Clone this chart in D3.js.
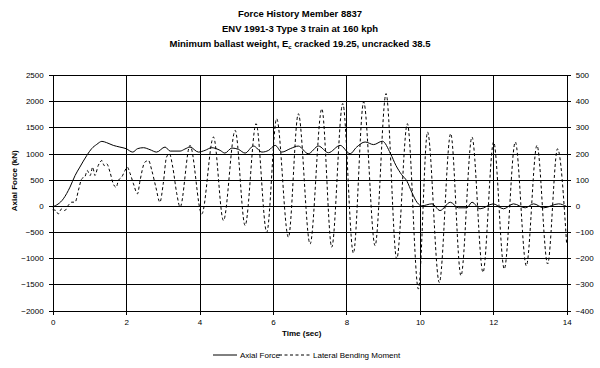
<!DOCTYPE html>
<meta charset="utf-8">
<script src="https://d3js.org/d3.v7.min.js"></script>
<style>
body { margin: 0; background: #fff; }
text { font-family: "Liberation Sans", Arial, sans-serif; fill: #000; }
.axis path, .axis line { stroke: #000; }
</style>
<div id="chart"></div>
<script>

// chart data
var titleLines = ["Force History Member 8837",
                  "ENV 1991-3 Type 3 train at 160 kph",
                  "Minimum ballast weight, E", "c", " cracked 19.25, uncracked 38.5"];

var timeTicks = [0, 2, 4, 6, 8, 10, 12, 14];
var forceTicks = [-2000, -1500, -1000, -500, 0, 500, 1000, 1500, 2000, 2500];
var momentTicks = [-400, -300, -200, -100, 0, 100, 200, 300, 400, 500];

var forceTime = [0, 0.29, 0.47, 0.61, 0.74, 0.93, 1.06, 1.2, 1.34, 1.47, 1.65, 1.83, 2.0, 2.18, 2.31,
  2.47, 2.65, 2.83, 3.06, 3.2, 3.47, 3.6, 3.74, 3.97, 4.15, 4.33, 4.56, 4.69, 4.88, 5.06, 5.24, 5.47,
  5.7, 5.88, 6.06, 6.24, 6.47, 6.69, 6.96, 7.24, 7.51, 7.83, 8.1, 8.28, 8.51, 8.74, 8.98, 9.2, 9.35,
  9.5, 9.65, 9.78, 9.93, 10.05, 10.33, 10.55, 10.83, 11.05, 11.28, 11.42, 11.64, 12.0, 12.28, 12.55,
  12.87, 13.1, 13.37, 13.78, 14.0];
var axialForce = [-20, 134, 356, 580, 740, 964, 1092, 1174, 1232, 1207, 1155, 1123, 1092, 1027, 1092,
  1111, 1073, 1027, 1123, 1046, 1046, 1085, 1123, 1027, 1060, 1111, 1060, 1008, 1104, 1079, 1008, 1142,
  1027, 1060, 1155, 1027, 1092, 1142, 996, 1142, 1015, 1155, 996, 1123, 1220, 1170, 1235, 1000, 770,
  600, 470, 260, 60, 0, 38, -90, 69, -38, -38, 69, -57, 38, -57, 38,
  -38, 38, -38, 38, -13];

var momentTime = [0, 0.09, 0.15, 0.24, 0.33, 0.42, 0.52, 0.61, 0.7, 0.79, 0.88, 0.94, 1.02, 1.09, 1.15,
  1.24, 1.34, 1.4, 1.47, 1.56, 1.65, 1.73, 1.79, 1.88, 1.97, 2.03, 2.11, 2.2, 2.31, 2.38, 2.51, 2.61,
  2.7, 2.81, 2.92, 3.01, 3.1, 3.18, 3.27, 3.38, 3.47, 3.74, 4.06, 4.38, 4.65, 4.97, 5.24, 5.54, 5.83,
  6.1, 6.42, 6.69, 7.01, 7.33, 7.6, 7.9, 8.19, 8.47, 8.78, 9.08, 9.37, 9.66, 9.96, 10.21, 10.53, 10.84,
  11.12, 11.42, 11.72, 12.01, 12.3, 12.6, 12.9, 13.19, 13.48, 13.75, 14.0];
var bendingMoment = [-15, -18, -31, -12, -18, 1, 14, 14, 59, 103, 112, 135, 116, 148, 116,
  154, 173, 154, 161, 129, 84, 71, 97, 110, 135, 148, 123, 84, 46, 97, 167, 173,
  135, 71, 14, 84, 186, 199, 148, 46, -5, 231, -31, 263, -56, 288, -75, 314, -101,
  333, -120, 352, -146, 371, -158, 391, -181, 397, -152, 429, -203, 314, -318, 282, -293, 276,
  -267, 263, -254, 244, -241, 244, -229, 231, -222, 218, -150];

// layout
var W = 600, H = 368;
var margin = {top: 75, left: 52.7},
    width = 514, height = 235.5;

var svg = d3.select("#chart").append("svg")
    .attr("width", W)
    .attr("height", H);

var g = svg.append("g")
    .attr("transform", "translate(" + margin.left + "," + margin.top + ")");

var x = d3.scaleLinear().domain([0, 14]).range([0, width]);
var yF = d3.scaleLinear().domain([-2000, 2500]).range([height, 0]);
var yM = d3.scaleLinear().domain([-400, 500]).range([height, 0]);

// gridlines
g.append("g")
    .attr("shape-rendering", "crispEdges")
    .call(d3.axisLeft(yF).tickValues(forceTicks).tickSize(-width).tickFormat(""))
    .call(function(s) { s.select(".domain").remove(); s.selectAll("line").attr("stroke", "#000"); });
g.append("g")
    .attr("shape-rendering", "crispEdges")
    .attr("transform", "translate(0," + height + ")")
    .call(d3.axisBottom(x).tickValues(timeTicks).tickSize(-height).tickFormat(""))
    .call(function(s) { s.select(".domain").remove(); s.selectAll("line").attr("stroke", "#000"); });

// axes with crossing tick marks
var fmt = d3.format("d");
var left = g.append("g").attr("class", "axis")
    .attr("shape-rendering", "crispEdges")
    .call(d3.axisLeft(yF).tickValues(forceTicks).tickFormat(fmt).tickSize(4).tickPadding(5).tickSizeOuter(0));
left.selectAll(".tick line").attr("x2", -4).attr("x1", 3);

var right = g.append("g").attr("class", "axis")
    .attr("shape-rendering", "crispEdges")
    .attr("transform", "translate(" + width + ",0)")
    .call(d3.axisRight(yM).tickValues(momentTicks).tickFormat(fmt).tickSize(4).tickPadding(5).tickSizeOuter(0));
right.selectAll(".tick line").attr("x2", 4).attr("x1", -3);

var bottom = g.append("g").attr("class", "axis")
    .attr("shape-rendering", "crispEdges")
    .attr("transform", "translate(0," + height + ")")
    .call(d3.axisBottom(x).tickValues(timeTicks).tickFormat(fmt).tickSize(4).tickPadding(5).tickSizeOuter(0));
bottom.selectAll(".tick line").attr("y2", 4).attr("y1", -3);

svg.selectAll(".axis text").style("font-size", "8px");

// series
var forceData = forceTime.map(function(t, i) { return [t, axialForce[i]]; });
var momentData = momentTime.map(function(t, i) { return [t, bendingMoment[i]]; });

g.append("path")
    .datum(momentData)
    .attr("fill", "none")
    .attr("stroke", "#000")
    .attr("stroke-width", 1)
    .attr("stroke-dasharray", "3,2.5")
    .attr("d", d3.line().curve(d3.curveMonotoneX)
      .x(function(d) { return x(d[0]); })
      .y(function(d) { return yM(d[1]); }));

g.append("path")
    .datum(forceData)
    .attr("fill", "none")
    .attr("stroke", "#000")
    .attr("stroke-width", 1)
    .attr("d", d3.line().curve(d3.curveMonotoneX)
      .x(function(d) { return x(d[0]); })
      .y(function(d) { return yF(d[1]); }));

// titles
var title = svg.append("text")
    .attr("text-anchor", "middle")
    .style("font-size", "9.5px")
    .style("font-weight", "bold");
title.append("tspan").attr("x", 300).attr("y", 17).text(titleLines[0]);
title.append("tspan").attr("x", 300).attr("y", 32).text(titleLines[1]);
var l3 = title.append("tspan").attr("x", 300).attr("y", 47);
l3.append("tspan").text(titleLines[2]);
l3.append("tspan").attr("dy", 2).style("font-size", "6px").text(titleLines[3]);
l3.append("tspan").attr("dy", -2).text(titleLines[4]);

svg.append("text")
    .attr("transform", "translate(17," + (margin.top + height / 2 - 12) + ") rotate(-90)")
    .attr("text-anchor", "middle")
    .style("font-size", "8px")
    .style("font-weight", "bold")
    .text("Axial Force (kN)");

svg.append("text")
    .attr("x", margin.left + width / 2 - 8)
    .attr("y", 336)
    .attr("text-anchor", "middle")
    .style("font-size", "8px")
    .style("font-weight", "bold")
    .text("Time (sec)");

// legend
var legend = svg.append("g").attr("transform", "translate(213,355)");
legend.append("line").attr("x1", 0).attr("x2", 24).attr("y1", 0).attr("y2", 0)
    .attr("stroke", "#000").attr("stroke-width", 1);
legend.append("text").attr("x", 27).attr("y", 3).style("font-size", "8px").text("Axial Force");
legend.append("line").attr("x1", 66).attr("x2", 99).attr("y1", 0).attr("y2", 0)
    .attr("stroke", "#000").attr("stroke-width", 1).attr("stroke-dasharray", "3,2.5");
legend.append("text").attr("x", 100).attr("y", 3).style("font-size", "8px").text("Lateral Bending Moment");

</script>
